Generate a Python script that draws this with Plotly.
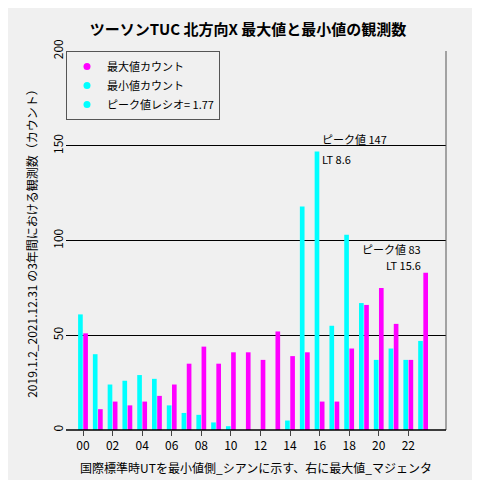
import plotly.graph_objects as go

hours = list(range(24))
min_counts = [61,40,24,26,29,27,13,9,8,4,2,0,0,0,5,118,147,55,103,67,37,43,37,47]
max_counts = [51,11,15,13,15,18,24,35,44,35,41,41,37,52,39,41,15,15,43,66,75,56,37,83]
tick_vals = list(range(0,24,2))
tick_text = [f"{h:02d}" for h in tick_vals]

fig = go.Figure()
fig.add_bar(x=hours, y=min_counts, name="最小値カウント", marker_color="#00ffff", marker_line_width=0, showlegend=False)
fig.add_bar(x=hours, y=max_counts, name="最大値カウント", marker_color="#ff00ff", marker_line_width=0, showlegend=False)
for nm, col in [("最大値カウント", "#ff00ff"), ("最小値カウント", "#00ffff"), ("ピーク値レシオ= 1.77", "#00ffff")]:
    fig.add_trace(go.Scatter(x=[None], y=[None], mode="markers", marker=dict(color=col, size=7), name=nm))

font = "Noto Sans CJK JP"
fig.update_layout(
    width=480, height=480, barmode="group", bargap=0.3, bargroupgap=0.1,
    paper_bgcolor="#f0f0f0", plot_bgcolor="#f0f0f0",
    margin=dict(l=58, r=42, t=43, b=58, autoexpand=False),
    font=dict(family=font, size=12, color="black"),
    title=dict(text="<b>ツーソンTUC 北方向X 最大値と最小値の観測数</b>", x=0.5, xanchor="center", y=0.965, font=dict(size=15)),
    legend=dict(x=0.0, y=1.0, xanchor="left", yanchor="top", bgcolor="#f0f0f0",
                bordercolor="#555", borderwidth=1, traceorder="normal", font=dict(size=11),
                tracegroupgap=0, itemwidth=30),
    showlegend=True,
)
fig.update_xaxes(range=[-1.15, 24.55], tickmode="array", tickvals=tick_vals, ticktext=tick_text,
                 ticks="outside", ticklen=5, showgrid=False, zeroline=False, showline=False, automargin=False,
                 title=dict(text="国際標準時UTを最小値側_シアンに示す、右に最大値_マジェンタ", font=dict(size=12), standoff=12))
fig.update_yaxes(range=[0, 200], tickvals=[0,50,100,150,200], tickangle=-90, showgrid=True,
                 gridcolor="black", gridwidth=1, zeroline=False, showline=False, automargin=False,
                 title=dict(text="2019.1.2_2021.12.31 の3年間における観測数（カウント）", font=dict(size=12), standoff=8))
fig.add_shape(type="line", xref="paper", yref="paper", x0=1, x1=1, y0=0, y1=1, line=dict(color="#555", width=1))
fig.add_shape(type="line", xref="paper", yref="paper", x0=0, x1=1, y0=0, y1=0, line=dict(color="black", width=1.5))
fig.add_annotation(x=16, y=147, text="ピーク値 147", showarrow=False, xanchor="left", yanchor="bottom",
                   xshift=0, yshift=2, font=dict(size=11))
fig.add_annotation(x=16, y=147, text="LT 8.6", showarrow=False, xanchor="left", yanchor="top",
                   xshift=0, yshift=2, font=dict(size=11))
fig.add_annotation(x=23, y=83, text="ピーク値 83", showarrow=False, xanchor="right", yanchor="bottom",
                   xshift=0, yshift=14, font=dict(size=11))
fig.add_annotation(x=23, y=83, text="LT 15.6", showarrow=False, xanchor="right", yanchor="bottom",
                   xshift=0, yshift=-2, font=dict(size=11))
fig.write_html("out.html")
